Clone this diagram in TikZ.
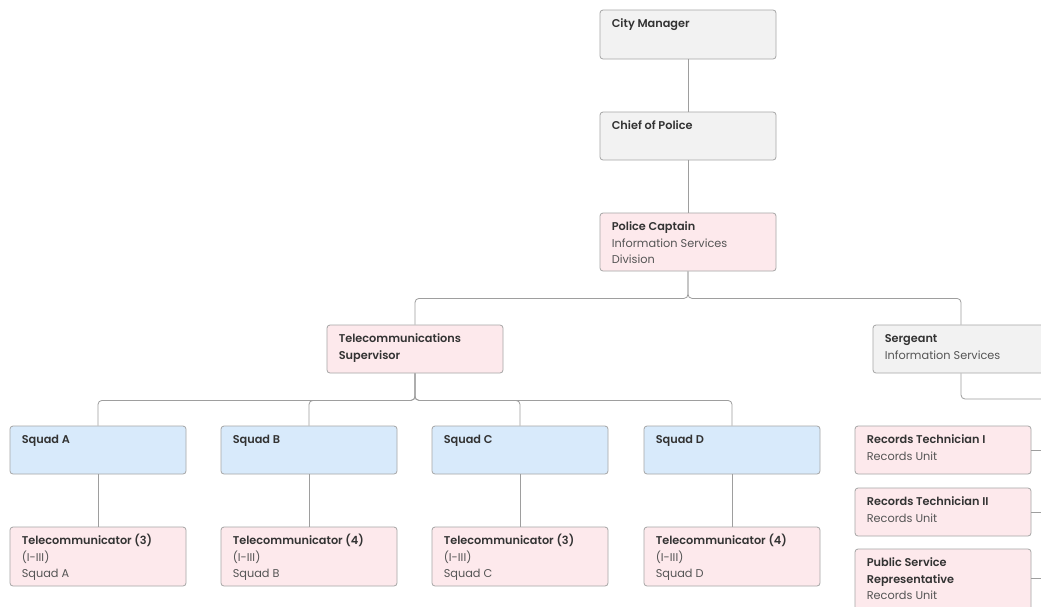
\documentclass[tikz,border=0pt]{standalone}
\usepackage{fontspec}
\setmainfont{Poppins}[BoldFont={Poppins SemiBold}]
\usetikzlibrary{calc}
\definecolor{edge}{HTML}{A6A6A6}
\definecolor{wire}{HTML}{9E9E9E}
\definecolor{grayfill}{HTML}{F2F2F2}
\definecolor{pinkfill}{HTML}{FDE9EC}
\definecolor{bluefill}{HTML}{D8EAFB}
\definecolor{ink}{HTML}{333333}
\definecolor{soft}{HTML}{555555}
% one bold heading line and one plain detail line of a box label
\newcommand\tline[1]{\hbox{\bfseries #1}}
\newcommand\sline[1]{\hbox{\color{soft}#1}}
\newcommand\stack[1]{\vtop{\baselineskip=16.5pt\relax #1}}
\begin{document}
\begin{tikzpicture}[x=1pt,y=-1pt,
  card/.style={draw=edge, line width=0.8pt, rounded corners=3pt, minimum width=176pt, inner sep=0pt},
  gray card/.style={card, fill=grayfill},
  pink card/.style={card, fill=pinkfill},
  blue card/.style={card, fill=bluefill},
  lbl/.style={anchor=base west, inner sep=0pt, text=ink, font=\fontsize{11.3}{16.5}\selectfont},
  conn/.style={draw=wire, line width=0.8pt, rounded corners=4pt}]
\useasboundingbox (0,0) rectangle (1041,606);
\clip (0,0) rectangle (1041,606);
\fill[white] (0,0) rectangle (1041,606);

% top of the chain
\node[gray card, minimum height=49pt] (cm) at (688,34.5) {};
\node[gray card, minimum height=48pt] (chief) at (688,136) {};
\node[pink card, minimum height=58pt] (cap) at (688,242) {};
% second level
\node[pink card, minimum height=48pt] (sup) at (415,349) {};
\node[gray card, minimum height=48pt] (serg) at (961,349) {};
% squads
\node[blue card, minimum height=48pt] (sqa) at (98,450) {};
\node[blue card, minimum height=48pt] (sqb) at (309,450) {};
\node[blue card, minimum height=48pt] (sqc) at (520,450) {};
\node[blue card, minimum height=48pt] (sqd) at (732,450) {};
% telecommunicators
\node[pink card, minimum height=59pt] (tca) at (98,556.5) {};
\node[pink card, minimum height=59pt] (tcb) at (309,556.5) {};
\node[pink card, minimum height=59pt] (tcc) at (520,556.5) {};
\node[pink card, minimum height=59pt] (tcd) at (732,556.5) {};
% records unit
\node[pink card, minimum height=48pt] (rt1) at (943,450) {};
\node[pink card, minimum height=48pt] (rt2) at (943,512) {};
\node[pink card, minimum height=64pt] (psr) at (943,581) {};

% labels
\node[lbl] (cmT) at ($(cm.north west)+(12,18)$) {\stack{\tline{City Manager}}};
\node[lbl] (chiefT) at ($(chief.north west)+(12,18)$) {\stack{\tline{Chief of Police}}};
\node[lbl] (capT) at ($(cap.north west)+(12,18)$) {\stack{\tline{Police Captain}\sline{Information Services}\sline{Division}}};
\node[lbl] (supT) at ($(sup.north west)+(12,18)$) {\stack{\tline{Telecommunications}\tline{Supervisor}}};
\node[lbl] (sergT) at ($(serg.north west)+(12,18)$) {\stack{\tline{Sergeant}\sline{Information Services}}};
\node[lbl] (sqaT) at ($(sqa.north west)+(12,18)$) {\stack{\tline{Squad A}}};
\node[lbl] (sqbT) at ($(sqb.north west)+(12,18)$) {\stack{\tline{Squad B}}};
\node[lbl] (sqcT) at ($(sqc.north west)+(12,18)$) {\stack{\tline{Squad C}}};
\node[lbl] (sqdT) at ($(sqd.north west)+(12,18)$) {\stack{\tline{Squad D}}};
\node[lbl] (tcaT) at ($(tca.north west)+(12,18)$) {\stack{\tline{Telecommunicator (3)}\sline{(I-III)}\sline{Squad A}}};
\node[lbl] (tcbT) at ($(tcb.north west)+(12,18)$) {\stack{\tline{Telecommunicator (4)}\sline{(I-III)}\sline{Squad B}}};
\node[lbl] (tccT) at ($(tcc.north west)+(12,18)$) {\stack{\tline{Telecommunicator (3)}\sline{(I-III)}\sline{Squad C}}};
\node[lbl] (tcdT) at ($(tcd.north west)+(12,18)$) {\stack{\tline{Telecommunicator (4)}\sline{(I-III)}\sline{Squad D}}};
\node[lbl] (rt1T) at ($(rt1.north west)+(12,18)$) {\stack{\tline{Records Technician I}\sline{Records Unit}}};
\node[lbl] (rt2T) at ($(rt2.north west)+(12,18)$) {\stack{\tline{Records Technician II}\sline{Records Unit}}};
\node[lbl] (psrT) at ($(psr.north west)+(12,18)$) {\stack{\tline{Public Service}\tline{Representative}\sline{Records Unit}}};

% free ends running off the right edge
\coordinate (eSerg) at (1046,399);
\coordinate (eRt1) at (1046,450);
\coordinate (eRt2) at (1046,512);
\coordinate (ePsr) at (1046,578);

% connectors
\draw[conn] (cm.south) -- (chief.north);
\draw[conn] (chief.south) -- (cap.north);
\draw[conn] (cap.south) -- ++(0,27) -| (sup.north);
\draw[conn] (cap.south) -- ++(0,27) -| (serg.north);
\draw[conn] (serg.south) |- (eSerg);
\draw[conn] (sup.south) -- ++(0,27) -| (sqa.north);
\draw[conn] (sup.south) -- ++(0,27) -| (sqb.north);
\draw[conn] (sup.south) -- ++(0,27) -| (sqc.north);
\draw[conn] (sup.south) -- ++(0,27) -| (sqd.north);
\draw[conn] (sqa.south) -- (tca.north);
\draw[conn] (sqb.south) -- (tcb.north);
\draw[conn] (sqc.south) -- (tcc.north);
\draw[conn] (sqd.south) -- (tcd.north);
\draw[conn] (rt1.east) -- (eRt1);
\draw[conn] (rt2.east) -- (eRt2);
\draw[conn] (psr.east |- ePsr) -- (ePsr);
\end{tikzpicture}
\end{document}
